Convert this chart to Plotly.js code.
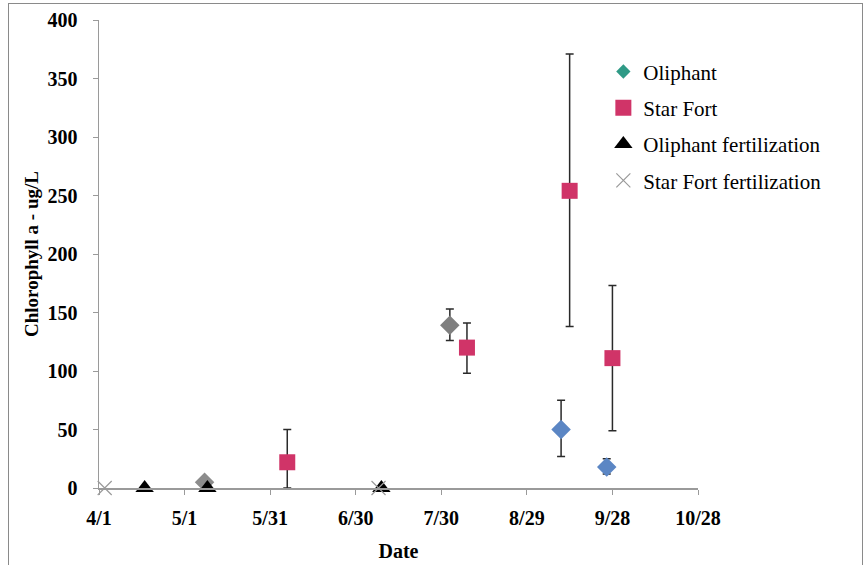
<!DOCTYPE html>
<html>
<head>
<meta charset="utf-8">
<script src="https://cdn.plot.ly/plotly-3.0.1.min.js"></script>
<style>
  html, body { margin: 0; padding: 0; background: #ffffff; }
  #frame { position: absolute; left: 8px; top: 3px; width: 853px; height: 600px; border: 1.5px solid #8a8a8a; }
  #chart { position: absolute; left: 0; top: 0; width: 865px; height: 565px; }
</style>
</head>
<body>
<div id="frame"></div>
<div id="chart"></div>
<script>
// ---- Data ----
const oliphantDates   = ['2011-05-08', '2011-08-02', '2011-09-10', '2011-09-26'];
const oliphantValues  = [5, 139, 50, 18];
const oliphantErrPlus = [2, 14, 25, 7];
const oliphantErrMinus= [2, 13, 23, 6];
const oliphantColors  = ['#8c8c8c', '#7f7f7f', '#5b86c4', '#5b86c4'];

const starFortDates    = ['2011-06-06', '2011-08-08', '2011-09-13', '2011-09-28'];
const starFortValues   = [22, 120, 254, 111];
const starFortErrPlus  = [28, 21, 117, 62];
const starFortErrMinus = [22, 22, 116, 62];

const oliphantFertDates  = ['2011-04-17', '2011-05-09', '2011-07-09'];
const oliphantFertValues = [0, 0, 0];
const starFortFertDates  = ['2011-04-03', '2011-07-08'];
const starFortFertValues = [0, 0];

const xTickStart = '2011-04-01';
const xRange = ['2011-04-01', '2011-10-28'];
const yRange = [0, 400];

// ---- Styles ----
const serif = '"Liberation Serif", "Times New Roman", serif';
const errStyle = {type: 'data', symmetric: false, color: '#2a2a2a', thickness: 1.5, width: 4};

const traces = [
  { // legend entry for Oliphant (styled like the legend swatch)
    name: 'Oliphant', x: [null], y: [null], type: 'scatter', mode: 'markers',
    marker: {symbol: 'diamond', size: 11, color: '#2f9a86'}, legendgroup: 'a', hoverinfo: 'skip'
  },
  {
    name: 'Oliphant', x: oliphantDates, y: oliphantValues, type: 'scatter', mode: 'markers',
    showlegend: false, legendgroup: 'a', cliponaxis: false,
    marker: {symbol: 'diamond', size: 15, color: oliphantColors},
    error_y: Object.assign({array: oliphantErrPlus, arrayminus: oliphantErrMinus}, errStyle)
  },
  {
    name: 'Star Fort', x: starFortDates, y: starFortValues, type: 'scatter', mode: 'markers',
    legendgroup: 'b', cliponaxis: false,
    marker: {symbol: 'square', size: 16, color: '#d03468'},
    error_y: Object.assign({array: starFortErrPlus, arrayminus: starFortErrMinus}, errStyle)
  },
  {
    name: 'Oliphant fertilization', x: oliphantFertDates, y: oliphantFertValues, type: 'scatter', mode: 'markers',
    legendgroup: 'c', cliponaxis: false,
    marker: {symbol: 'triangle-up', size: 16, color: '#000000'}
  },
  {
    name: 'Star Fort fertilization', x: starFortFertDates, y: starFortFertValues, type: 'scatter', mode: 'markers',
    legendgroup: 'd', cliponaxis: false,
    marker: {symbol: 'x-thin-open', size: 14, color: '#9a9a9a', line: {width: 1.2, color: '#9a9a9a'}}
  }
];

const layout = {
  width: 865, height: 565,
  paper_bgcolor: 'rgba(0,0,0,0)', plot_bgcolor: 'rgba(0,0,0,0)',
  margin: {l: 99, r: 167, t: 20, b: 77},
  font: {family: serif, color: '#000000'},
  showlegend: true,
  legend: {
    x: 0.842, y: 0.933, xanchor: 'left', yanchor: 'top',
    traceorder: 'grouped', tracegroupgap: 6,
    font: {family: serif, size: 21, color: '#000000'},
    bgcolor: 'rgba(0,0,0,0)', itemwidth: 30
  },
  xaxis: {
    type: 'date', range: xRange, tick0: xTickStart, dtick: 30 * 86400000,
    tickformat: '%-m/%-d', showgrid: false, zeroline: false,
    showline: true, linecolor: '#9a9a9a', linewidth: 1.5,
    ticks: 'outside', ticklen: 5, tickcolor: '#9a9a9a', ticklabelstandoff: 6,
    tickfont: {family: serif, size: 20, weight: 'bold', color: '#000000'},
    title: {text: 'Date', font: {family: serif, size: 20, weight: 'bold', color: '#000000'}, standoff: 16},
    automargin: false
  },
  yaxis: {
    range: yRange, dtick: 50, showgrid: false, zeroline: false,
    showline: true, linecolor: '#9a9a9a', linewidth: 1.5,
    ticks: 'outside', ticklen: 5, tickcolor: '#9a9a9a', ticklabelstandoff: 11,
    tickfont: {family: serif, size: 20, weight: 'bold', color: '#000000'},
    title: {text: 'Chlorophyll a - ug/L', font: {family: serif, size: 19, weight: 'bold', color: '#000000'}, standoff: 4},
    automargin: false
  }
};

Plotly.newPlot('chart', traces, layout, {displayModeBar: false, staticPlot: true});
</script>
</body>
</html>
